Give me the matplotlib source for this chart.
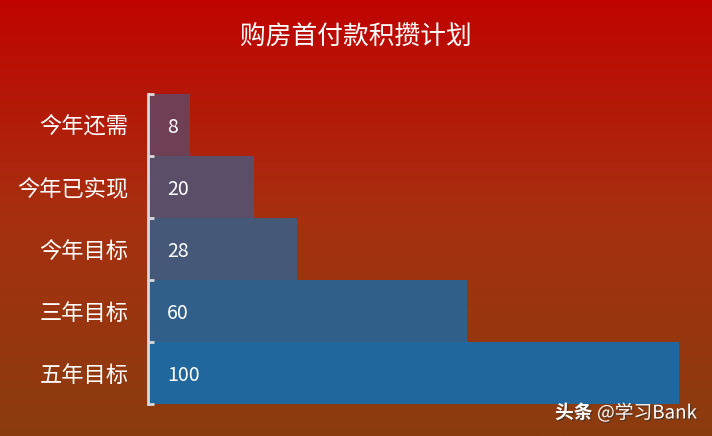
import numpy as np
import matplotlib.pyplot as plt
import matplotlib.patheffects as pe
from matplotlib.colors import LinearSegmentedColormap

plt.rcParams['font.family'] = ['Noto Sans CJK SC', 'DejaVu Sans']

categories = ["今年还需", "今年已实现", "今年目标", "三年目标", "五年目标"]
values = [8, 20, 28, 60, 100]
bar_colors = ["#6E3F55", "#5B4E68", "#465878", "#30608A", "#20679E"]
title = "购房首付款积攒计划"

fig = plt.figure(figsize=(7.12, 4.36), dpi=100)

# background gradient, red at top to brown-orange at bottom
bg = fig.add_axes([0, 0, 1, 1])
bg_cmap = LinearSegmentedColormap.from_list("bg", ["#8A3C0E", "#A63010", "#C00400"])
grad = np.linspace(0, 1, 256).reshape(-1, 1)
bg.imshow(grad, aspect="auto", cmap=bg_cmap, origin="lower", extent=[0, 1, 0, 1])
bg.axis("off")

ax = fig.add_axes([148 / 712, 32 / 436, 531 / 712, 310 / 436])
ax.set_facecolor("none")
y = np.arange(len(categories))
ax.barh(y, values, height=1.0, color=bar_colors, edgecolor="none")
ax.set_xlim(0, 100)
ax.set_ylim(len(categories) - 0.5, -0.5)

for yi, v in zip(y, values):
    ax.text(3.6, yi + 0.04, str(v), color="white", fontsize=14, va="center", ha="left")

ax.set_yticks(y)
ax.set_yticklabels(categories, color="white", fontsize=16)
ax.set_yticks(np.arange(len(categories) + 1) - 0.5, minor=True)
ax.tick_params(axis="y", which="major", length=0, pad=14)
ax.tick_params(axis="y", which="minor", direction="in", length=4, width=2, color="#D9D9D9")
ax.set_xticks([])
for side in ["top", "right", "bottom"]:
    ax.spines[side].set_visible(False)
ax.spines["left"].set_color("#D9D9D9")
ax.spines["left"].set_linewidth(2)

fig.text(356 / 712, 1 - 38 / 436, title, color="white", fontsize=18.5, ha="center", va="center")

shadow = [pe.withSimplePatchShadow(offset=(1, -1), shadow_rgbFace="#333333", alpha=0.6)]
fig.text(555 / 712, 1 - 413 / 436, "头条", color="white", fontsize=13.5, fontweight="bold",
         ha="left", va="center", path_effects=shadow)
fig.text(597 / 712, 1 - 413 / 436, "@学习Bank", color="white", fontsize=13.5,
         ha="left", va="center", path_effects=shadow)

fig.savefig("out.png", dpi=100)
